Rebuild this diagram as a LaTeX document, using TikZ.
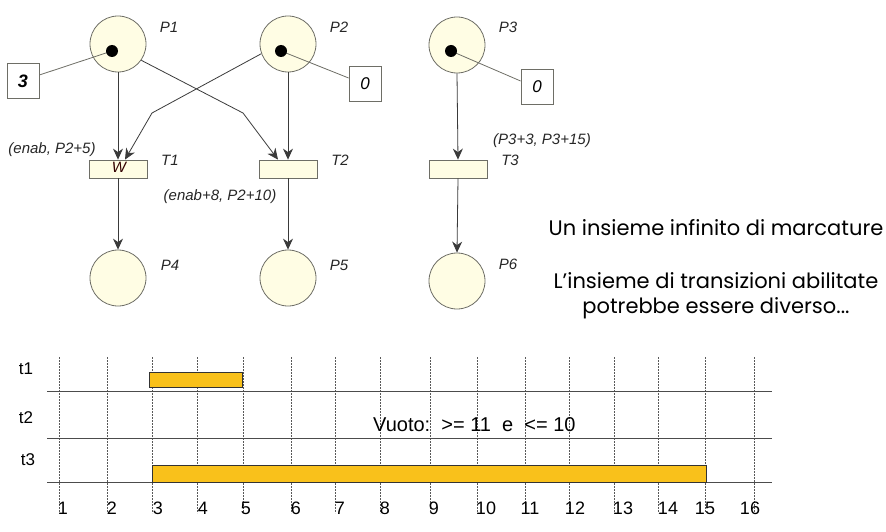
\documentclass[tikz,border=0pt]{standalone}
\usepackage{fontspec}
\setsansfont{Liberation Sans}
\newfontfamily\handfont{Poppins}
\usetikzlibrary{arrows.meta}
\definecolor{placefill}{HTML}{FFFDE4}
\definecolor{placeline}{HTML}{6E6E66}
\definecolor{arcgray}{HTML}{3A3A3A}
\definecolor{bar}{HTML}{F9C11B}
\tikzset{
  place/.style={circle,draw=placeline,fill=placefill,minimum size=56pt,inner sep=0pt,line width=0.8pt},
  trans/.style={rectangle,draw=placeline,fill=placefill,minimum width=58pt,minimum height=18pt,inner sep=0pt,line width=0.8pt},
  token/.style={circle,fill=black,minimum size=12pt,inner sep=0pt},
  markbox/.style={rectangle,draw=placeline,fill=white,minimum width=32pt,minimum height=35pt,inner sep=0pt,line width=0.8pt},
  lab/.style={font=\sffamily\itshape\fontsize{15}{17}\selectfont,inner sep=0pt,text=black!85},
  arc/.style={draw=arcgray,line width=0.8pt,-{Stealth[length=11pt,width=10pt,inset=3.5pt]}},
  tokline/.style={draw=placeline,line width=0.8pt},
  gridl/.style={draw=black!65,line width=0.7pt,dash pattern=on 2pt off 1pt},
  hline/.style={draw=black!70,line width=1pt},
  num/.style={font=\sffamily\fontsize{18}{20}\selectfont,inner sep=0pt},
  tlab/.style={font=\sffamily\fontsize{17}{19}\selectfont,inner sep=0pt},
  hand/.style={font=\handfont\fontsize{21}{24}\selectfont,inner sep=0pt},
  barbox/.style={draw=black!80,fill=bar,line width=0.8pt}
}
\begin{document}
\begin{tikzpicture}[x=1pt,y=-1pt]
\useasboundingbox (0,0) rectangle (886,532);
% places
\node[place] (P1) at (118,44) {};
\node[place] (P2) at (288,44) {};
\node[place] (P3) at (457,45) {};
\node[place] (P4) at (118,278) {};
\node[place] (P5) at (288,278) {};
\node[place] (P6) at (457,281) {};
% transitions
\node[trans] (T1) at (118,169) {};
\node[trans] (T2) at (288,169) {};
\node[trans] (T3) at (458,169) {};
\node[lab,text=black!80!red] (W) at (119,167) {W};
% labels
\node[lab] (lP1) at (169,27) {P1};
\node[lab] (lP2) at (339,27) {P2};
\node[lab] (lP3) at (508,27) {P3};
\node[lab] (lP4) at (170,265) {P4};
\node[lab] (lP5) at (339,265) {P5};
\node[lab] (lP6) at (508,264) {P6};
\node[lab] (lT1) at (170,160) {T1};
\node[lab] (lT2) at (340,160) {T2};
\node[lab] (lT3) at (510,160) {T3};
\node[lab] (g1) at (52,150) {(enab, P2+5)};
\node[lab] (g2) at (220,197) {(enab+8, P2+10)};
\node[lab] (g3) at (542,141) {(P3+3, P3+15)};
% marking boxes
\node[markbox] (m1) at (23,81) {\sffamily\bfseries\itshape\fontsize{18}{20}\selectfont 3};
\node[markbox] (m2) at (365,84) {\sffamily\itshape\fontsize{17}{20}\selectfont 0};
\node[markbox] (m3) at (537,87) {\sffamily\itshape\fontsize{17}{20}\selectfont 0};
% tokens
\coordinate (k1) at (112,51);
\coordinate (k2) at (281,51);
\coordinate (k3) at (451,51);
\draw[tokline] (m1.east |- 0,75) -- (k1);
\draw[tokline] (k2) -- (m2.west |- 0,78);
\draw[tokline] (k3) -- (m3.west |- 0,81);
\node[token] (tk1) at (k1) {};
\node[token] (tk2) at (k2) {};
\node[token] (tk3) at (k3) {};
% arcs
\draw[arc] (P1.south) -- (T1.north);
\draw[arc] (P2.south) -- (T2.north);
\draw[arc] (P2.200) -- (152,113) -- ([xshift=7pt]T1.north);
\draw[arc] (P1.-35) -- (243,113) -- ([xshift=-10pt]T2.north);
\draw[arc] (P3.south) -- (T3.north);
\draw[arc] (T1.south) -- (P4.north);
\draw[arc] (T2.south) -- (P5.north);
\draw[arc] (T3.south) -- (P6.north);
% right text
\node[hand] (h1) at (716,228) {Un insieme infinito di marcature};
\node[hand] (h2) at (716,281) {L’insieme di transizioni abilitate};
\node[hand] (h3) at (716,308) {potrebbe essere diverso...};
% timeline
\foreach \x/\n/\lx in {59/1/63,107/2/112,152/3/158,197/4/203,243/5/246,291/6/296,335/7/340,380/8/385,430/9/434,477/10/486,525/11/530,569/12/575,614/13/623,658/14/668,705/15/705,754/16/750}{
  \draw[gridl] (\x,357) -- (\x,513);
  \node[num] (n\n) at (\lx,508) {\n};
}
\draw[hline] (47,391) -- (772,391);
\draw[hline] (47,438) -- (772,438);
\draw[hline] (47,482) -- (772,482);
\node[tlab] (t1) at (26,369) {t1};
\node[tlab] (t2) at (26,418) {t2};
\node[tlab] (t3) at (28,460) {t3};
\draw[barbox] (149,372) rectangle (242,387);
\draw[barbox] (152,465) rectangle (706,482);
\node[font=\sffamily\fontsize{20}{22}\selectfont,inner sep=0pt,anchor=west] (vuoto) at (373,425) {Vuoto:\ \ {>}= 11\ \ e\ \ {<}= 10};
\end{tikzpicture}
\end{document}
